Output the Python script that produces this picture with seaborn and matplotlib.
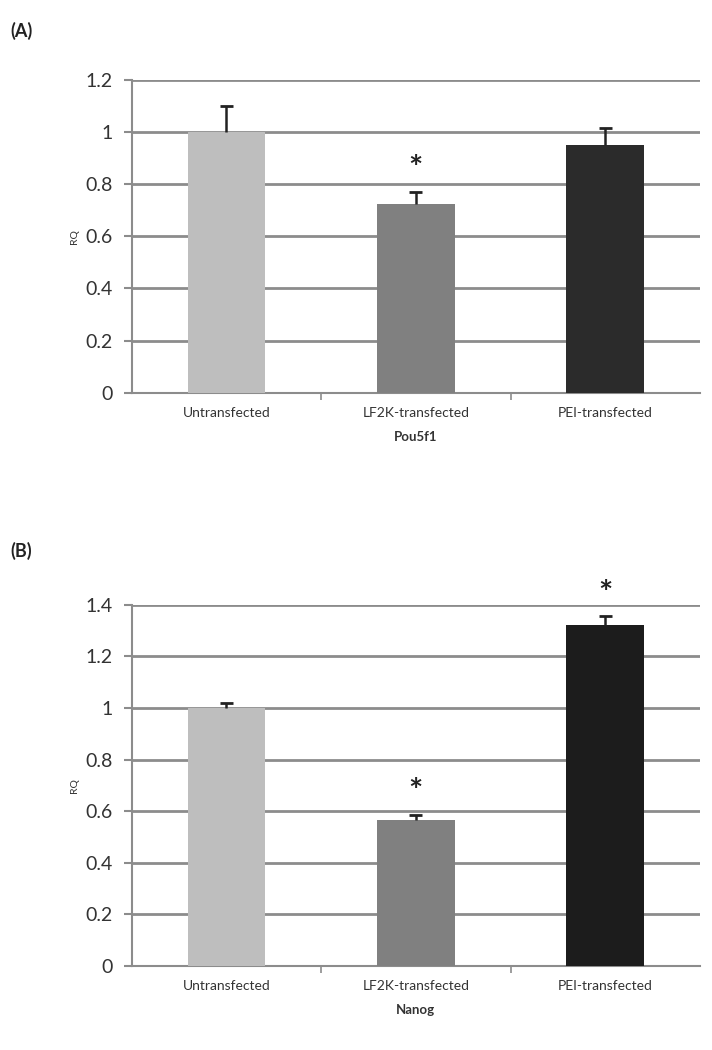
import numpy as np
import pandas as pd
import matplotlib
matplotlib.use("Agg")
import matplotlib.pyplot as plt
import seaborn as sns

categories = ["Untransfected", "LF2K-transfected", "PEI-transfected"]
pou5f1_values = [1.0, 0.725, 0.95]
pou5f1_err = [0.10, 0.045, 0.065]
pou5f1_stars = ["", "*", ""]
nanog_values = [1.0, 0.565, 1.32]
nanog_err = [0.02, 0.02, 0.035]
nanog_stars = ["", "*", "*"]
colors_a = ["#bebebe", "#808080", "#2b2b2b"]
colors_b = ["#bebebe", "#808080", "#1c1c1c"]

sns.set_style("white")
plt.rcParams["font.family"] = ["Lato", "DejaVu Sans"]

fig = plt.figure(figsize=(7.12, 10.5), dpi=100)
ax_a = fig.add_axes([0.185, 0.626, 0.798, 0.298])
ax_b = fig.add_axes([0.185, 0.080, 0.798, 0.344])

def panel(ax, values, errs, stars, colors, ymax, yticks, xlabel):
    df = pd.DataFrame({"cat": categories, "val": values})
    sns.barplot(data=df, x="cat", y="val", hue="cat", palette=colors,
                width=0.41, legend=False, ax=ax, zorder=3, linewidth=0,
                edgecolor="none")
    pos = np.arange(len(categories))
    vals = np.asarray(values)
    tops = vals + np.asarray(errs)
    ax.vlines(pos, vals, tops, color="#222222", linewidth=1.8, zorder=4)
    ax.hlines(tops, pos - 0.035, pos + 0.035, color="#222222", linewidth=2.0, zorder=4)
    for p, t, s in zip(pos, tops, stars):
        if s:
            ax.text(p, t + 0.03, s, ha="center", va="bottom", fontsize=24,
                    fontweight="bold", color="#222222", clip_on=False, zorder=5)
    ax.set_ylim(0, ymax)
    ax.set_xlim(-0.5, 2.5)
    ax.set_yticks(yticks)
    ax.set_yticklabels([("%g" % t) for t in yticks], fontsize=14, color="#333333")
    ax.yaxis.grid(True, color="#8c8c8c", linewidth=2, zorder=0)
    ax.set_axisbelow(True)
    for sp in ["top", "right"]:
        ax.spines[sp].set_visible(False)
    for sp in ["left", "bottom"]:
        ax.spines[sp].set_color("#8c8c8c")
        ax.spines[sp].set_linewidth(1.5)
    ax.tick_params(axis="y", length=6, width=1.5, color="#8c8c8c", pad=8, direction="out", left=True)
    ax.tick_params(axis="x", length=0, pad=10, labelsize=10, labelcolor="#333333")
    ax.set_xticks([0.5, 1.5], minor=True)
    ax.tick_params(axis="x", which="minor", length=5, width=1.2, color="#8c8c8c", bottom=True, direction="out")
    ax.set_xlabel(xlabel, fontsize=9.5, fontweight="bold", color="#333333", labelpad=9)
    ax.set_ylabel("RQ", fontsize=7.5, color="#333333", labelpad=4)

panel(ax_a, pou5f1_values, pou5f1_err, pou5f1_stars, colors_a, 1.2,
      [0, 0.2, 0.4, 0.6, 0.8, 1.0, 1.2], "Pou5f1")
panel(ax_b, nanog_values, nanog_err, nanog_stars, colors_b, 1.4,
      [0, 0.2, 0.4, 0.6, 0.8, 1.0, 1.2, 1.4], "Nanog")

fig.text(0.014, 0.965, "(A)", fontsize=13, fontweight="bold", color="#222222")
fig.text(0.014, 0.470, "(B)", fontsize=13, fontweight="bold", color="#222222")

fig.savefig("out.png", dpi=100, facecolor="white")
